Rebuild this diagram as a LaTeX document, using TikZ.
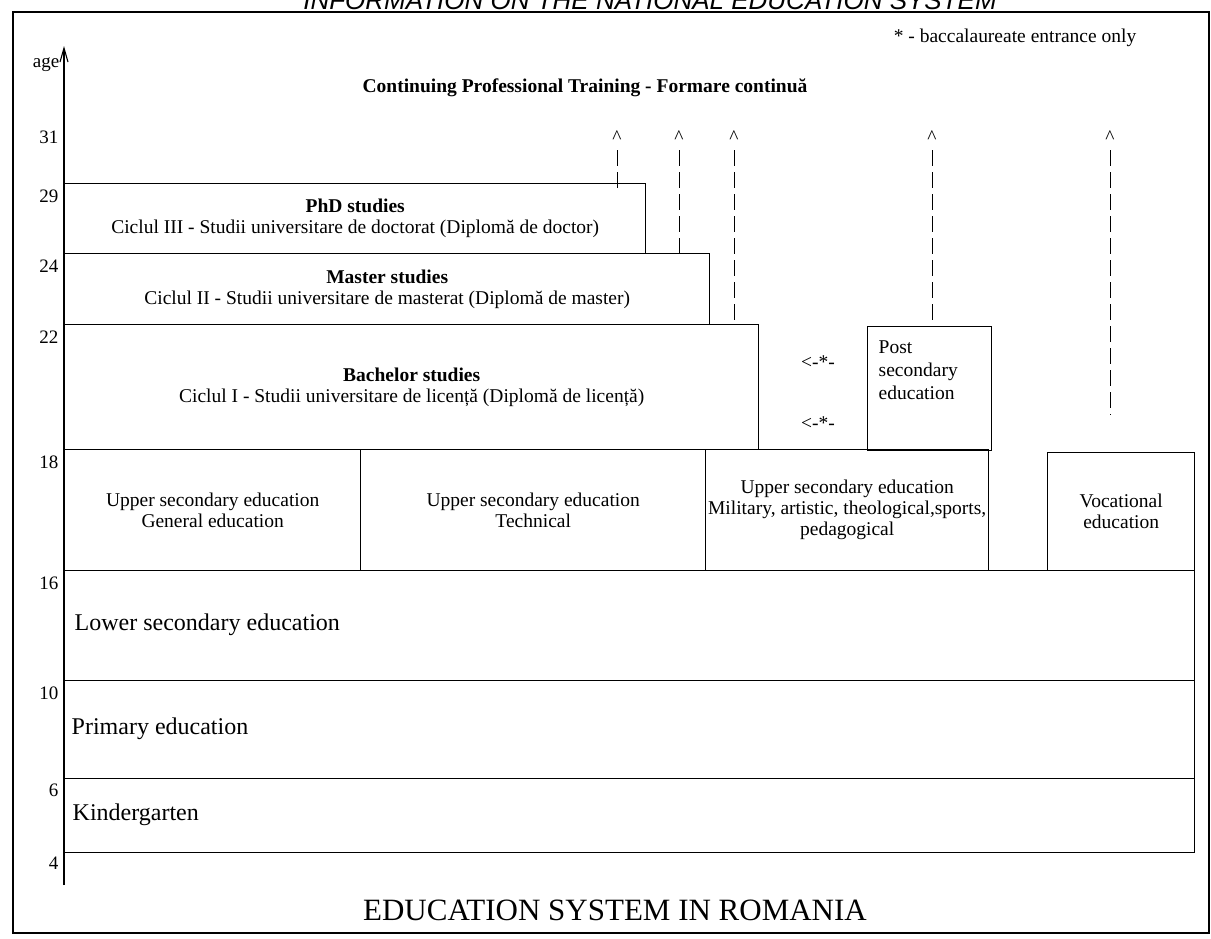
\documentclass[tikz,border=0pt]{standalone}
\usepackage{fontspec}
\setmainfont{Liberation Serif}
\newfontfamily\headfont{Liberation Sans}
\usetikzlibrary{arrows.meta}

\begin{document}
\begin{tikzpicture}[x=1pt, y=-1pt, line width=1.4pt,
  level/.style={draw, rectangle, inner sep=0pt, anchor=north west, align=center,
    font=\fontsize{19.5}{21}\selectfont},
  wide/.style={anchor=west, inner sep=0pt, font=\fontsize{24}{26}\selectfont},
  tick/.style={anchor=east, inner sep=0pt, font=\fontsize{19}{20}\selectfont},
  caret/.style={anchor=base, inner sep=0pt, font=\fontsize{19.5}{20}\selectfont},
  upway/.style={line width=0.8pt, dash pattern=on 16pt off 6pt, shorten <=7pt}]
\useasboundingbox (0,0) rectangle (1211,938);
\clip (0,0) rectangle (1211,938);
\fill[white] (0,0) rectangle (1211,938);

% page header, cut at the top edge
\node[anchor=base, inner sep=0pt, font=\headfont\itshape\fontsize{26}{28}\selectfont] (header) at (650,9) {INFORMATION ON THE NATIONAL EDUCATION SYSTEM};
\draw[line width=1.5pt] (13,12) rectangle (1209,933);

% age axis
\coordinate (axisbot) at (64,885);
\coordinate (axistop) at (64,46);
\draw[line width=1.1pt, -{Straight Barb[length=14pt, width=8pt]}] (axisbot) -- (axistop);
\node[anchor=base east, inner sep=0pt, font=\fontsize{19}{20}\selectfont] (age) at (60,67) {age};
\node[tick] (a31) at (59,137) {31};
\node[tick] (a29) at (59,196) {29};
\node[tick] (a24) at (59,266) {24};
\node[tick] (a22) at (59,337) {22};
\node[tick] (a18) at (59,462) {18};
\node[tick] (a16) at (59,583) {16};
\node[tick] (a10) at (59,693) {10};
\node[tick] (a6) at (59,790) {6};
\node[tick] (a4) at (59,863) {4};

% notes on top
\node[anchor=east, inner sep=0pt, font=\fontsize{19.5}{20}\selectfont] (note) at (1137,38) {* - baccalaureate entrance only};
\node[inner sep=0pt, font=\bfseries\fontsize{19.5}{20}\selectfont] (cpt) at (585,88) {Continuing Professional Training - Formare continuă};

% university cycles
\node[level, minimum width=581pt, minimum height=70pt] (phd) at (64,183) {\textbf{PhD studies}\\Ciclul III - Studii universitare de doctorat (Diplomă de doctor)};
\node[level, minimum width=645pt, minimum height=71pt] (master) at (64,253) {\textbf{Master studies}\\Ciclul II - Studii universitare de masterat (Diplomă de master)};
\node[level, minimum width=694pt, minimum height=125pt] (bachelor) at (64,324) {\textbf{Bachelor studies}\\Ciclul I - Studii universitare de licență (Diplomă de licență)};
\node[level, minimum width=124pt, minimum height=124pt] (post) at (867,326) {};
\node[anchor=north west, inner sep=0pt, align=left, font=\fontsize{19.5}{23}\selectfont] (posttext) at (878,340) {Post\\secondary\\education};
\node[inner sep=0pt, font=\fontsize{19.5}{20}\selectfont] (bac1) at (818,362) {<-*-};
\node[inner sep=0pt, font=\fontsize{19.5}{20}\selectfont] (bac2) at (818,423) {<-*-};

% upper secondary
\node[level, minimum width=296pt, minimum height=121pt] (general) at (64,449) {Upper secondary education\\General education};
\node[level, minimum width=345pt, minimum height=121pt] (technical) at (360,449) {Upper secondary education\\Technical};
\node[level, minimum width=283pt, minimum height=121pt] (vocational-hs) at (705,449) {Upper secondary education\\Military, artistic, theological,sports,\\pedagogical};
\node[level, minimum width=147pt, minimum height=118pt] (vocational) at (1047,452) {Vocational\\education};

% compulsory school
\node[level, minimum width=1130pt, minimum height=110pt] (lower) at (64,570) {};
\node[level, minimum width=1130pt, minimum height=98pt] (primary) at (64,680) {};
\node[level, minimum width=1130pt, minimum height=74pt] (kinder) at (64,778) {};
\node[wide] (lowertext) at (74,625) {Lower secondary education};
\node[wide] (primarytext) at (71,729) {Primary education};
\node[wide] (kindertext) at (72,815) {Kindergarten};

% ways on to further training
\node[caret] (c1) at (617,143) {\textasciicircum};
\node[caret] (c2) at (679,143) {\textasciicircum};
\node[caret] (c3) at (734,143) {\textasciicircum};
\node[caret] (c4) at (932,143) {\textasciicircum};
\node[caret] (c5) at (1110,143) {\textasciicircum};
\coordinate (e1) at (617,188);
\coordinate (e2) at (679,253);
\coordinate (e3) at (734,320);
\coordinate (e4) at (932,322);
\coordinate (e5) at (1110,415);
\foreach \i in {1,...,5}
  \draw[upway] (c\i.base) -- (e\i);

\node[inner sep=0pt, font=\fontsize{31}{32}\selectfont] (title) at (615,910) {EDUCATION SYSTEM IN ROMANIA};
\end{tikzpicture}
\end{document}
